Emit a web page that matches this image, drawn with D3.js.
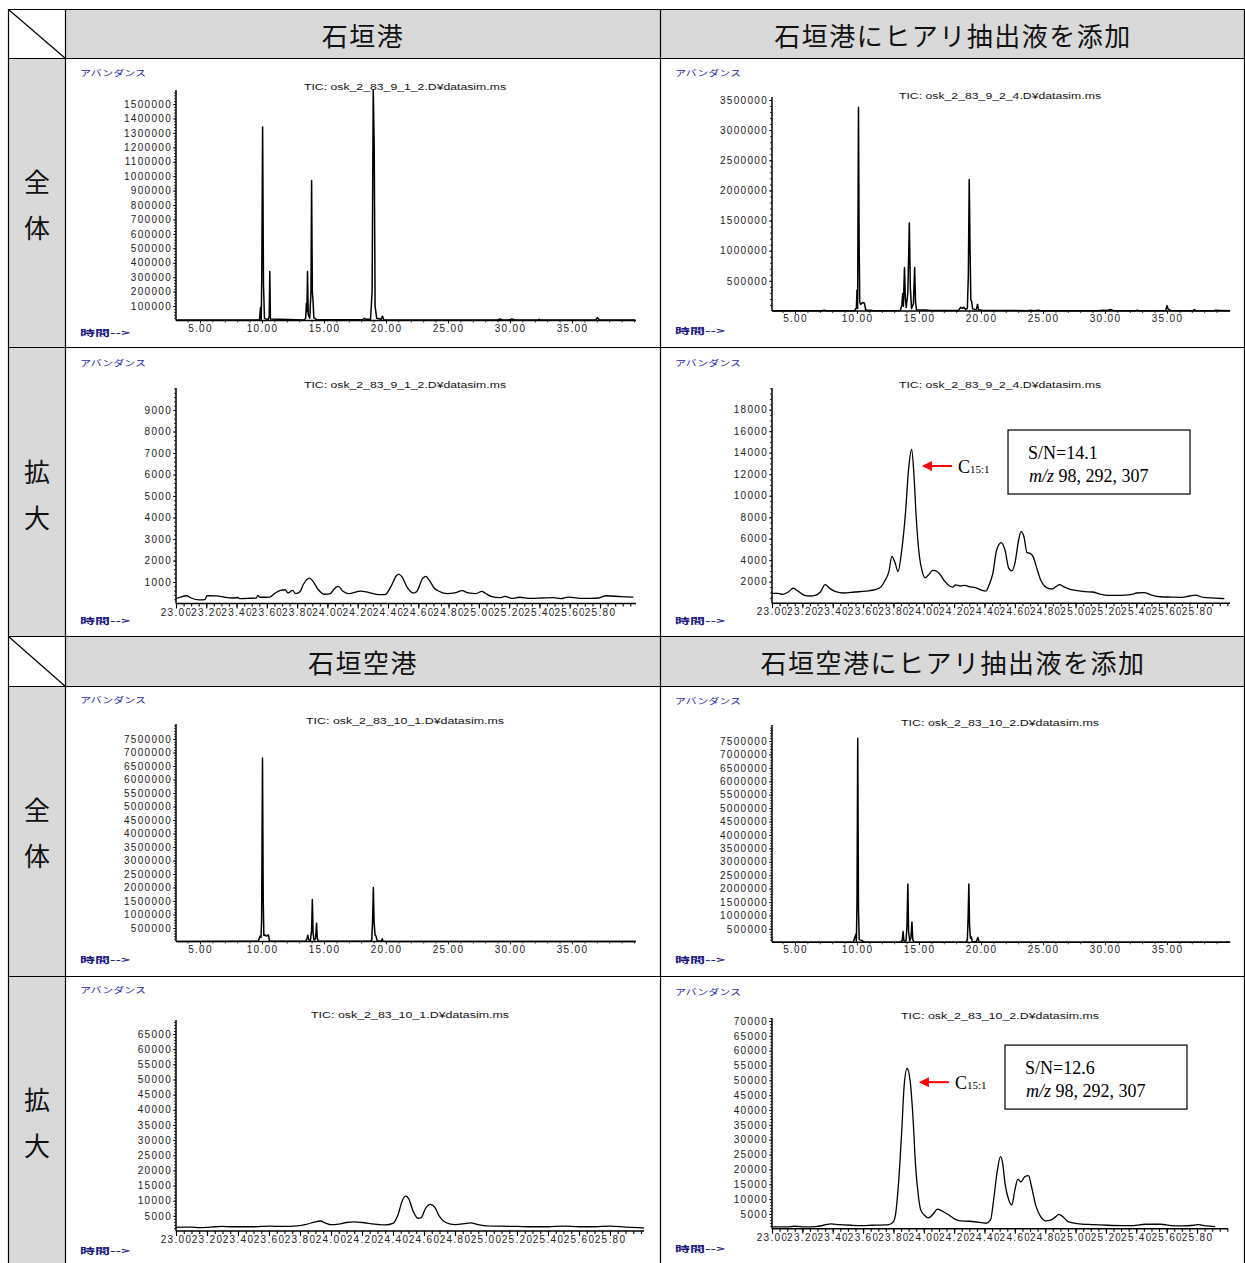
<!DOCTYPE html>
<html><head><meta charset="utf-8">
<script src="https://cdn.jsdelivr.net/npm/d3@7"></script>
<style>
body{margin:0;background:#fff;}
svg{display:block;}
</style></head><body>
<svg id="c" width="1245" height="1263"></svg>
<script>
// ---------------- DATA ----------------
const colHeadersTop = ["石垣港", "石垣港にヒアリ抽出液を添加"];
const colHeadersBottom = ["石垣空港", "石垣空港にヒアリ抽出液を添加"];
const rowLabels = ["全体", "拡大", "全体", "拡大"];
const ticTitles = [
  "TIC: osk_2_83_9_1_2.D¥datasim.ms", "TIC: osk_2_83_9_2_4.D¥datasim.ms",
  "TIC: osk_2_83_9_1_2.D¥datasim.ms", "TIC: osk_2_83_9_2_4.D¥datasim.ms",
  "TIC: osk_2_83_10_1.D¥datasim.ms", "TIC: osk_2_83_10_2.D¥datasim.ms",
  "TIC: osk_2_83_10_1.D¥datasim.ms", "TIC: osk_2_83_10_2.D¥datasim.ms"
];
const yAxisName = "アバンダンス";
const xAxisName = "時間-->";

const fullXTicks = [5, 10, 15, 20, 25, 30, 35];
const zoomXTicks = [23.0, 23.2, 23.4, 23.6, 23.8, 24.0, 24.2, 24.4, 24.6, 24.8, 25.0, 25.2, 25.4, 25.6, 25.8];

const yTicksP1 = [100000, 200000, 300000, 400000, 500000, 600000, 700000, 800000, 900000, 1000000, 1100000, 1200000, 1300000, 1400000, 1500000];
const yTicksP2 = [500000, 1000000, 1500000, 2000000, 2500000, 3000000, 3500000];
const yTicksP3 = [1000, 2000, 3000, 4000, 5000, 6000, 7000, 8000, 9000];
const yTicksP4 = [2000, 4000, 6000, 8000, 10000, 12000, 14000, 16000, 18000];
const yTicksP5 = [500000, 1000000, 1500000, 2000000, 2500000, 3000000, 3500000, 4000000, 4500000, 5000000, 5500000, 6000000, 6500000, 7000000, 7500000];
const yTicksP6 = [500000, 1000000, 1500000, 2000000, 2500000, 3000000, 3500000, 4000000, 4500000, 5000000, 5500000, 6000000, 6500000, 7000000, 7500000];
const yTicksP7 = [5000, 10000, 15000, 20000, 25000, 30000, 35000, 40000, 45000, 50000, 55000, 60000, 65000];
const yTicksP8 = [5000, 10000, 15000, 20000, 25000, 30000, 35000, 40000, 45000, 50000, 55000, 60000, 65000, 70000];

// [retention time (min), abundance]
const traceP1 = [[3.1,3000],[9.6,3000],[9.8,5000],[9.88,90000],[9.94,8000],[9.98,300000],[10.05,1340000],[10.12,250000],[10.2,15000],[10.5,5000],[10.58,30000],[10.63,340000],[10.68,10000],[13.4,4000],[13.52,15000],[13.58,120000],[13.62,60000],[13.67,340000],[13.73,40000],[13.85,15000],[13.95,200000],[14.0,970000],[14.06,200000],[14.12,130000],[14.18,20000],[14.4,6000],[18.1,5000],[18.25,14000],[18.4,8000],[18.6,9000],[18.75,6000],[18.88,200000],[18.97,1600000],[19.05,1200000],[19.12,100000],[19.25,15000],[19.6,8000],[19.72,30000],[19.82,6000],[20.3,4000],[29.0,4000],[29.2,10000],[29.4,4000],[30.0,5000],[30.15,11000],[30.35,5000],[32.25,4000],[32.35,9000],[32.45,4000],[36.9,4000],[37.05,20000],[37.2,4000],[40.1,3000]];

const traceP2 = [[3.2,5000],[7.2,5000],[7.35,15000],[7.5,5000],[9.8,6000],[9.95,50000],[10.0,350000],[10.05,40000],[10.08,1500000],[10.12,3380000],[10.17,1200000],[10.22,150000],[10.3,110000],[10.45,140000],[10.6,130000],[10.7,20000],[10.9,8000],[11.1,12000],[11.3,6000],[13.5,8000],[13.62,100000],[13.68,290000],[13.74,80000],[13.83,720000],[13.9,200000],[13.97,60000],[14.1,300000],[14.22,1460000],[14.3,400000],[14.4,40000],[14.55,120000],[14.65,720000],[14.72,150000],[14.8,20000],[15.5,15000],[16.0,8000],[18.2,10000],[18.35,60000],[18.5,45000],[18.6,60000],[18.75,30000],[18.9,40000],[18.98,600000],[19.05,2180000],[19.12,1000000],[19.18,180000],[19.25,160000],[19.32,40000],[19.6,15000],[19.72,110000],[19.8,20000],[20.2,8000],[23.8,6000],[24.0,12000],[24.2,6000],[24.65,12000],[24.8,6000],[29.5,6000],[29.8,12000],[30.2,8000],[30.45,25000],[30.65,10000],[32.5,6000],[32.6,15000],[32.7,6000],[34.9,8000],[35.0,90000],[35.1,30000],[35.3,10000],[37.1,6000],[37.2,25000],[37.3,6000],[38.8,6000],[38.9,12000],[39.3,10000],[40.1,6000]];

const traceP3 = [[23.00,225],[23.03,300],[23.07,360],[23.10,255],[23.155,165],[23.19,180],[23.205,360],[23.27,350],[23.32,290],[23.37,255],[23.41,280],[23.42,225],[23.47,240],[23.53,255],[23.54,380],[23.555,290],[23.62,300],[23.655,490],[23.69,610],[23.72,640],[23.74,490],[23.77,610],[23.79,460],[23.82,560],[23.84,870],[23.88,1180],[23.905,1030],[23.94,640],[23.98,430],[24.02,460],[24.04,640],[24.07,800],[24.105,560],[24.14,460],[24.22,580],[24.27,520],[24.34,410],[24.38,410],[24.42,800],[24.455,1290],[24.47,1370],[24.49,1260],[24.53,720],[24.57,490],[24.59,560],[24.63,1180],[24.65,1260],[24.67,1110],[24.705,720],[24.74,560],[24.79,460],[24.84,490],[24.89,600],[24.93,490],[24.98,460],[25.02,560],[25.04,490],[25.08,330],[25.14,270],[25.17,330],[25.22,240],[25.27,290],[25.34,240],[25.42,255],[25.49,270],[25.54,225],[25.59,300],[25.67,240],[25.74,240],[25.79,255],[25.84,360],[25.94,320],[26.02,300]];

const traceP4 = [[23.00,915],[23.04,915],[23.07,820],[23.11,1070],[23.14,1400],[23.17,1130],[23.21,760],[23.25,670],[23.285,730],[23.32,1070],[23.35,1720],[23.38,1380],[23.42,1070],[23.47,950],[23.545,1040],[23.62,1130],[23.68,1260],[23.72,1540],[23.74,2000],[23.77,2930],[23.79,4350],[23.81,3800],[23.83,2950],[23.855,4950],[23.88,8500],[23.90,12500],[23.92,14300],[23.935,12000],[23.95,8000],[23.97,4500],[23.99,2930],[24.01,2350],[24.03,2620],[24.06,3050],[24.09,2930],[24.11,2620],[24.14,2000],[24.17,1600],[24.19,1500],[24.21,1700],[24.24,1600],[24.27,1660],[24.30,1540],[24.34,1440],[24.38,1220],[24.41,1130],[24.43,1690],[24.455,2780],[24.48,4950],[24.51,5630],[24.535,4950],[24.56,3240],[24.58,3000],[24.60,3700],[24.625,5880],[24.64,6650],[24.66,6180],[24.68,4700],[24.70,4640],[24.72,4330],[24.745,3240],[24.77,2150],[24.795,1600],[24.82,1380],[24.845,1320],[24.87,1540],[24.895,1720],[24.92,1540],[24.96,1320],[25.01,1160],[25.06,1070],[25.11,1040],[25.16,850],[25.21,730],[25.26,730],[25.33,760],[25.38,850],[25.40,950],[25.45,980],[25.50,760],[25.56,600],[25.63,570],[25.70,540],[25.75,670],[25.79,760],[25.84,540],[25.92,480],[25.98,420],[26.03,450]];

const traceP5 = [[3.1,3000],[9.7,5000],[9.85,200000],[9.92,150000],[9.97,800000],[10.04,6800000],[10.1,1500000],[10.15,220000],[10.25,240000],[10.35,200000],[10.45,230000],[10.52,240000],[10.6,30000],[10.8,5000],[13.5,5000],[13.62,100000],[13.7,230000],[13.77,60000],[13.9,30000],[14.0,400000],[14.06,1560000],[14.12,300000],[14.2,50000],[14.32,100000],[14.4,680000],[14.46,120000],[14.55,10000],[18.7,5000],[18.85,60000],[18.92,800000],[18.98,2000000],[19.04,700000],[19.12,230000],[19.2,200000],[19.28,30000],[19.6,10000],[19.7,100000],[19.78,10000],[20.2,3000],[40.1,3000]];

const traceP6 = [[3.2,3000],[9.7,5000],[9.9,300000],[9.95,30000],[10.0,1500000],[10.06,7600000],[10.12,1200000],[10.18,100000],[10.3,80000],[10.45,60000],[10.55,10000],[13.5,5000],[13.65,80000],[13.72,400000],[13.78,60000],[13.95,50000],[14.03,600000],[14.1,2170000],[14.16,400000],[14.25,60000],[14.35,150000],[14.43,760000],[14.5,100000],[14.6,10000],[18.8,5000],[18.9,100000],[18.96,900000],[19.02,2170000],[19.08,600000],[19.15,150000],[19.22,200000],[19.3,30000],[19.6,10000],[19.75,180000],[19.85,10000],[20.3,3000],[40.1,3000]];

const traceP7 = [[23.00,1200],[23.05,1300],[23.1,1300],[23.15,1100],[23.2,1200],[23.25,1400],[23.3,1500],[23.35,1400],[23.4,1400],[23.5,1400],[23.55,1500],[23.6,1600],[23.7,1500],[23.78,1700],[23.84,2200],[23.89,2900],[23.93,3300],[23.97,2500],[24.0,2100],[24.05,2300],[24.1,2800],[24.15,3000],[24.2,2800],[24.28,2300],[24.35,2000],[24.4,2500],[24.43,5000],[24.46,10000],[24.48,11500],[24.5,10800],[24.53,6500],[24.56,4200],[24.58,4300],[24.61,7500],[24.64,8800],[24.67,7800],[24.7,4800],[24.74,2800],[24.8,2100],[24.86,2400],[24.9,2700],[24.95,2100],[25.0,1700],[25.1,1600],[25.2,1500],[25.3,1400],[25.4,1400],[25.5,1600],[25.6,1400],[25.7,1400],[25.8,1600],[25.9,1300],[26.02,1000]];

const traceP8 = [[23.00,640],[23.10,640],[23.15,860],[23.22,640],[23.29,750],[23.34,1200],[23.39,1650],[23.44,1420],[23.52,1200],[23.59,1090],[23.66,1200],[23.74,1310],[23.77,1420],[23.80,2430],[23.815,5220],[23.835,16400],[23.855,33150],[23.87,47700],[23.89,54000],[23.91,49900],[23.93,36500],[23.945,21950],[23.965,10800],[23.98,6340],[24.01,4330],[24.03,3660],[24.06,4890],[24.09,6600],[24.12,6000],[24.155,5000],[24.20,3440],[24.24,2650],[24.30,2540],[24.38,2090],[24.41,1870],[24.44,2990],[24.46,9690],[24.485,19740],[24.505,24300],[24.52,21980],[24.535,15280],[24.56,9690],[24.58,8010],[24.60,13040],[24.62,16730],[24.64,15800],[24.665,17510],[24.69,17900],[24.71,14160],[24.74,7450],[24.77,4100],[24.805,2650],[24.84,2990],[24.87,4100],[24.89,4890],[24.92,3880],[24.95,2430],[25.01,1760],[25.11,1420],[25.21,1200],[25.31,1090],[25.38,1090],[25.46,1540],[25.56,1540],[25.63,1090],[25.70,980],[25.78,1200],[25.81,1420],[25.86,980],[25.92,750],[26.01,640]];

// annotations: arrow tip (time, abundance), box corner (time, abundance)
const annPanels = [3, 7];
const annTipT = [23.988, 23.968];
const annTipV = [12760, 49400];
const annBoxT = [24.555, 24.535];
const annBoxV = [16110, 61880];
const annCompound = ["C", "C"];
const annSub = ["15:1", "15:1"];
const annSN = ["S/N=14.1", "S/N=12.6"];
const annMZ = [" 98, 292, 307", " 98, 292, 307"];

// ---------------- LAYOUT ----------------
const svg = d3.select("#c");
const GRAY = "#d9d9d9";
const BLUE = "#2a2ab0";
const cjk = "'Noto Sans CJK JP','Noto Sans CJK SC',sans-serif";
const sans = "'Liberation Sans',Arial,sans-serif";
const serif = "'Liberation Serif','Times New Roman',serif";

// table background
svg.append("rect").attr("x",65).attr("y",9).attr("width",1180).attr("height",49).attr("fill",GRAY);
svg.append("rect").attr("x",65).attr("y",636).attr("width",1180).attr("height",50).attr("fill",GRAY);
svg.append("rect").attr("x",8).attr("y",58).attr("width",57).attr("height",578).attr("fill",GRAY);
svg.append("rect").attr("x",8).attr("y",686).attr("width",57).attr("height",577).attr("fill",GRAY);

const grid = svg.append("g").attr("stroke","#000").attr("stroke-width",1.2);
[9.5,58.5,347.5,636.5,686.5,976.5].forEach(y=>grid.append("line").attr("x1",8).attr("x2",1245).attr("y1",y).attr("y2",y));
[8.5,65.5,660.5,1244.5].forEach(x=>grid.append("line").attr("x1",x).attr("x2",x).attr("y1",9).attr("y2",1263));
grid.append("line").attr("x1",8.5).attr("y1",9.5).attr("x2",65.5).attr("y2",58.5);
grid.append("line").attr("x1",8.5).attr("y1",636.5).attr("x2",65.5).attr("y2",686.5);

// headers
const hdr = (txt,x,y)=>svg.append("text").attr("x",x).attr("y",y).attr("text-anchor","middle")
  .attr("dominant-baseline","central").attr("font-family",cjk).attr("font-size",26).attr("letter-spacing",1.5)
  .attr("fill","#111").text(txt);
hdr(colHeadersTop[0],363,34); hdr(colHeadersTop[1],953,34);
hdr(colHeadersBottom[0],363,661); hdr(colHeadersBottom[1],953,661);
const rowCenters = [203, 493, 831, 1121];
rowLabels.forEach((lab,i)=>{
  [...lab].forEach((ch,j)=>{
    svg.append("text").attr("x",37).attr("y",rowCenters[i]-23+j*46).attr("text-anchor","middle")
      .attr("dominant-baseline","central").attr("font-family",cjk).attr("font-size",26).attr("fill","#111").text(ch);
  });
});

// panel configs (positions)
const panels = [
 {data:traceP1, yt:yTicksP1, yMinor:20000, full:true, xl:176, xe:636, xr:[200,572], yb:320.5, ytop:90, yr:[320.5,104], ymax:1500000, cx:80, ab:73, tx:405, ty:87, tm:333},
 {data:traceP2, yt:yTicksP2, yMinor:100000, full:true, xl:772, xe:1230, xr:[795,1167], yb:311, ytop:97, yr:[311,100], ymax:3500000, cx:675, ab:73, tx:1000, ty:96, tm:331},
 {data:traceP3, yt:yTicksP3, yMinor:200, full:false, xl:176, xe:636, xr:[176,600], yb:603.5, ytop:388, yr:[603.5,410], ymax:9000, cx:80, ab:363, tx:405, ty:385, tm:621},
 {data:traceP4, yt:yTicksP4, yMinor:500, full:false, xl:772, xe:1230, xr:[772,1197], yb:603.2, ytop:388, yr:[603.2,409.7], ymax:18000, cx:675, ab:363, tx:1000, ty:385, tm:621},
 {data:traceP5, yt:yTicksP5, yMinor:100000, full:true, xl:176, xe:636, xr:[200,572], yb:941.5, ytop:724, yr:[941.5,739], ymax:7500000, cx:80, ab:700, tx:405, ty:721, tm:960},
 {data:traceP6, yt:yTicksP6, yMinor:100000, full:true, xl:772, xe:1230, xr:[795,1167], yb:942.3, ytop:725, yr:[942.3,741], ymax:7500000, cx:675, ab:701, tx:1000, ty:723, tm:960},
 {data:traceP7, yt:yTicksP7, yMinor:1000, full:false, xl:176, xe:644, xr:[176,610], yb:1231, ytop:1020, yr:[1231,1034], ymax:65000, cx:80, ab:990, tx:410, ty:1015, tm:1251},
 {data:traceP8, yt:yTicksP8, yMinor:1000, full:false, xl:772, xe:1228, xr:[772,1197], yb:1228.8, ytop:1018, yr:[1228.8,1021], ymax:70000, cx:675, ab:992, tx:1000, ty:1016, tm:1249}
];

const scales = [];
panels.forEach((p,i)=>{
  const g = svg.append("g");
  const xd = p.full ? [5,35] : [23,25.8];
  const x = d3.scaleLinear().domain(xd).range(p.xr);
  const y = d3.scaleLinear().domain([0,p.ymax]).range(p.yr);
  scales.push({x,y});

  // labels
  g.append("text").attr("x",p.cx).attr("y",p.ab+3).attr("font-family",cjk).attr("font-size",8.5)
    .attr("fill",BLUE).attr("textLength",66).attr("lengthAdjust","spacingAndGlyphs").text(yAxisName);
  g.append("text").attr("x",p.cx).attr("y",p.tm+3).attr("font-family",cjk).attr("font-size",8.5).attr("font-weight","bold")
    .attr("fill","#1a1a80").attr("textLength",50).attr("lengthAdjust","spacingAndGlyphs").text(xAxisName);
  g.append("text").attr("x",p.tx).attr("y",p.ty+3).attr("text-anchor","middle").attr("font-family",sans).attr("font-size",8.5)
    .attr("fill","#111").attr("textLength",i>=4?198:202).attr("lengthAdjust","spacingAndGlyphs").text(ticTitles[i]);

  // y axis
  const yAx = d3.axisLeft(y).tickValues(p.yt).tickSize(3).tickPadding(1).tickFormat(d3.format("d"));
  const yg = g.append("g").attr("transform",`translate(${p.xl},0)`).call(yAx);
  const yMinorVals = d3.range(p.yMinor, y.invert(p.ytop), p.yMinor);
  const ymg = g.append("g").attr("transform",`translate(${p.xl},0)`).call(d3.axisLeft(y).tickValues(yMinorVals).tickSize(2).tickFormat(""));
  [yg,ymg].forEach(a=>{a.select(".domain").remove(); a.selectAll("line").attr("stroke","#000").attr("stroke-width",0.8);});
  yg.selectAll("text").attr("font-family",sans).attr("font-size",10).attr("letter-spacing",1.3).attr("fill","#222");

  // x axis
  const xt = p.full ? fullXTicks : zoomXTicks;
  const xAx = d3.axisBottom(x).tickValues(xt).tickSize(p.full?3:5).tickPadding(p.full?1:0).tickFormat(d3.format(".2f"));
  const xg = g.append("g").attr("transform",`translate(0,${p.yb})`).call(xAx);
  const xMinStep = p.full ? 1 : 0.05;
  const xMinorVals = d3.range(x.invert(p.xl), x.invert(p.xe), xMinStep).map(v=>Math.round(v/xMinStep)*xMinStep).filter(v=>x(v)>=p.xl && x(v)<=p.xe);
  const xmg = g.append("g").attr("transform",`translate(0,${p.yb})`).call(d3.axisBottom(x).tickValues(xMinorVals).tickSize(p.full?2:3).tickFormat(""));
  [xg,xmg].forEach(a=>{a.select(".domain").remove(); a.selectAll("line").attr("stroke","#000").attr("stroke-width",p.full?0.8:1.1);});
  xg.selectAll("text").attr("font-family",sans).attr("font-size",10).attr("letter-spacing",1.3).attr("fill","#222")
    .attr("stroke","#fff").attr("stroke-width",p.full?0:3).attr("paint-order","stroke");

  // axis lines
  g.append("line").attr("x1",p.xl).attr("x2",p.xl).attr("y1",p.ytop).attr("y2",p.yb).attr("stroke","#000").attr("stroke-width",1.5);
  g.append("line").attr("x1",p.xl).attr("x2",p.xe).attr("y1",p.yb).attr("y2",p.yb).attr("stroke","#000").attr("stroke-width",1.5);

  // trace
  const line = d3.line().x(d=>x(d[0])).y(d=>y(d[1])).curve(p.full ? d3.curveLinear : d3.curveMonotoneX);
  g.append("path").datum(p.data.filter(d=>x(d[0])>=p.xl-0.5 && x(d[0])<=p.xe+0.5)).attr("d",line)
    .attr("fill","none").attr("stroke","#000").attr("stroke-width",p.full?1.5:1.3).attr("stroke-linejoin","round");
});

// annotations
annPanels.forEach((pi,k)=>{
  const {x,y} = scales[pi];
  const tx = x(annTipT[k]), ty = y(annTipV[k]);
  const g = svg.append("g");
  g.append("line").attr("x1",tx+8).attr("x2",tx+30).attr("y1",ty).attr("y2",ty).attr("stroke","#ff0000").attr("stroke-width",2);
  g.append("path").attr("d",`M${tx},${ty}L${tx+10},${ty-5}L${tx+10},${ty+5}Z`).attr("fill","#ff0000");
  const t = g.append("text").attr("x",tx+36).attr("y",ty+7).attr("font-family",serif).attr("fill","#000");
  t.append("tspan").attr("font-size",18).text(annCompound[k]);
  t.append("tspan").attr("font-size",11).text(annSub[k]);
  const bx = x(annBoxT[k]), by = y(annBoxV[k]);
  g.append("rect").attr("x",bx).attr("y",by).attr("width",182).attr("height",64).attr("fill","#fff").attr("stroke","#000").attr("stroke-width",1.2);
  g.append("text").attr("x",bx+20).attr("y",by+29).attr("font-family",serif).attr("font-size",18).text(annSN[k]);
  const m = g.append("text").attr("x",bx+21).attr("y",by+52).attr("font-family",serif).attr("font-size",18);
  m.append("tspan").attr("font-style","italic").text("m/z");
  m.append("tspan").text(annMZ[k]);
});
</script>
</body></html>
